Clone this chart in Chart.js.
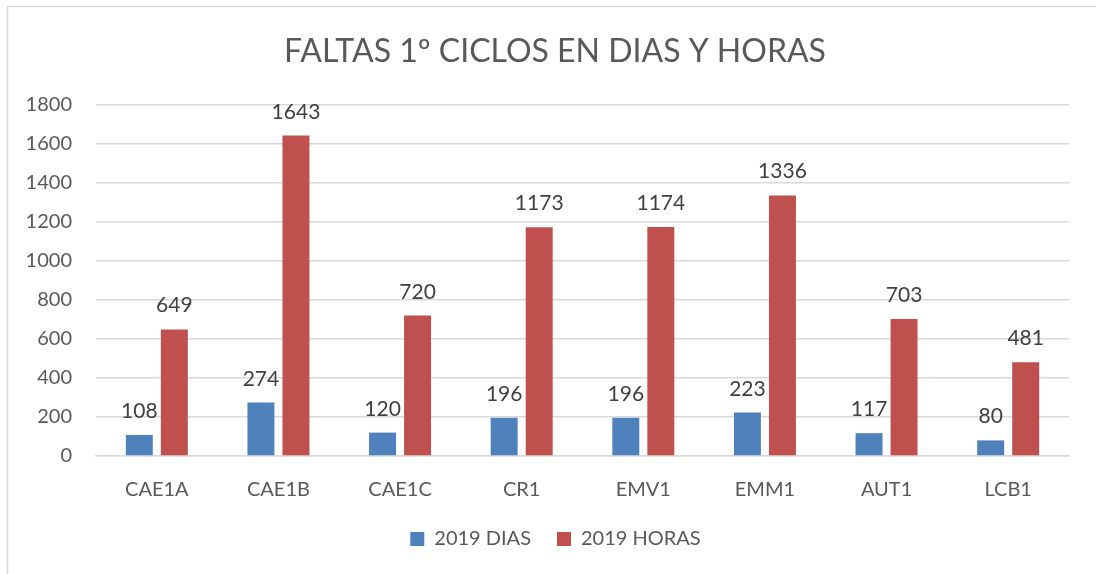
<!DOCTYPE html>
<html>
<head>
<meta charset="utf-8">
<script src="https://cdn.jsdelivr.net/npm/chart.js@4.4.0/dist/chart.umd.min.js"></script>
<style>
  html, body { margin: 0; padding: 0; background: #fff; }
  #wrap { width: 1096px; height: 574px; }
</style>
</head>
<body>
<div id="wrap"><canvas id="faltas" width="1096" height="574"></canvas></div>
<script>
const categories = ['CAE1A', 'CAE1B', 'CAE1C', 'CR1', 'EMV1', 'EMM1', 'AUT1', 'LCB1'];
const dias2019 = [108, 274, 120, 196, 196, 223, 117, 80];
const horas2019 = [649, 1643, 720, 1173, 1174, 1336, 703, 481];
const yTicks = [0, 200, 400, 600, 800, 1000, 1200, 1400, 1600, 1800];
const chartTitle = 'FALTAS 1º CICLOS EN DIAS Y HORAS';

const FONT = 'Lato, "Liberation Sans", sans-serif';
const TEXT = '#595959';

// values above each bar, like excel data labels
const barLabels = {
  id: 'barLabels',
  afterDatasetsDraw(chart) {
    const ctx = chart.ctx;
    ctx.save();
    ctx.font = '21px ' + FONT;
    ctx.fillStyle = '#404040';
    ctx.textAlign = 'center';
    ctx.textBaseline = 'alphabetic';
    chart.data.datasets.forEach((ds, i) => {
      chart.getDatasetMeta(i).data.forEach((bar, j) => {
        ctx.fillText(ds.data[j], bar.x, bar.y - 17);
      });
    });
    ctx.restore();
  }
};

// frame, title and legend offset: the original chart is centred a bit to the right
const frame = {
  id: 'frame',
  afterLayout(chart) {
    chart.legend.left += 21;
    chart.legend.right += 21;
  },
  beforeDraw(chart) {
    const ctx = chart.ctx;
    ctx.save();
    ctx.fillStyle = '#fff';
    ctx.fillRect(0, 0, chart.width, chart.height);
    ctx.strokeStyle = '#d9d9d9';
    ctx.lineWidth = 1.5;
    ctx.strokeRect(7.5, 6.5, 1300, 1300);
    ctx.font = '32px ' + FONT;
    ctx.fillStyle = TEXT;
    ctx.textAlign = 'center';
    ctx.textBaseline = 'alphabetic';
    ctx.fillText(chartTitle, 555, 62);
    ctx.restore();
  }
};

new Chart(document.getElementById('faltas'), {
  type: 'bar',
  data: {
    labels: categories,
    datasets: [
      { label: '2019 DIAS', data: dias2019, backgroundColor: '#4f81bd' },
      { label: '2019 HORAS', data: horas2019, backgroundColor: '#c0504d' }
    ]
  },
  options: {
    responsive: false,
    animation: false,
    layout: { padding: { left: 0, right: 27, top: 105, bottom: 15 } },
    categoryPercentage: 0.576,
    barPercentage: 0.77,
    plugins: {
      title: { display: false },
      legend: {
        position: 'bottom',
        labels: {
          color: TEXT,
          font: { family: FONT, size: 20 },
          boxWidth: 14,
          boxHeight: 14,
          padding: 26
        }
      },
      tooltip: { enabled: false }
    },
    scales: {
      x: {
        grid: { display: false },
        border: { color: '#d9d9d9', width: 1.5 },
        afterFit(scale) { scale.height -= 13; },
        ticks: { color: TEXT, font: { family: FONT, size: 20 }, padding: 14 }
      },
      y: {
        min: 0,
        max: 1800,
        afterFit(scale) { scale.width = 96; },
        afterBuildTicks(scale) { scale.ticks = yTicks.map(v => ({ value: v })); },
        grid: { color: '#d9d9d9', lineWidth: 1.5, drawTicks: false },
        border: { display: false },
        ticks: {
          color: TEXT,
          font: { family: FONT, size: 20 },
          padding: 24,
          callback: v => String(v)
        }
      }
    }
  },
  plugins: [frame, barLabels]
});
</script>
</body>
</html>
